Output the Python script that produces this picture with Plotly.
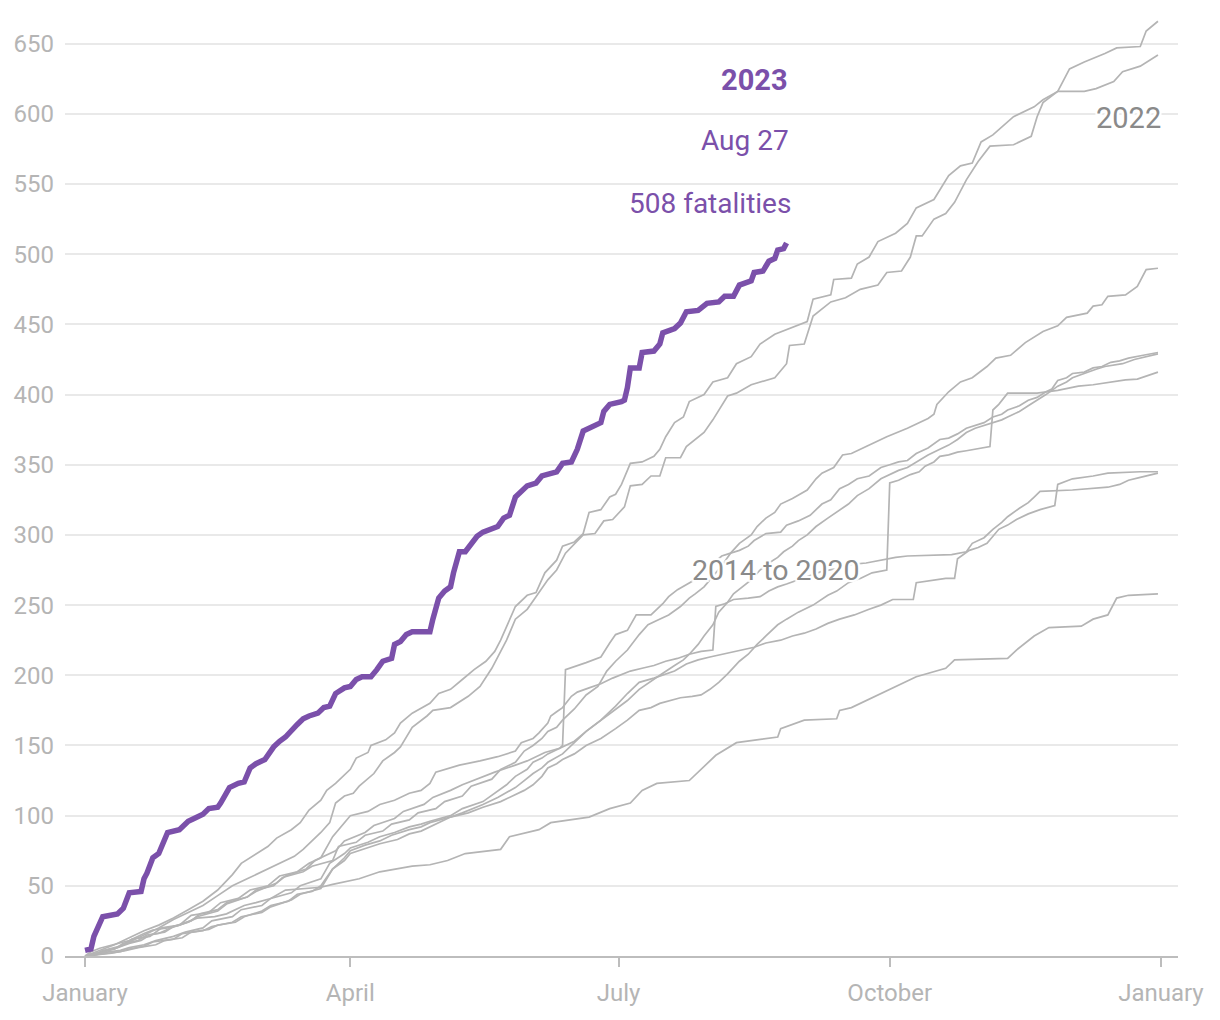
import pandas as pd
import plotly.graph_objects as go

# ---- data: (day of year, cumulative fatalities) ----
A_days = [0,5,10,15,20,25,30,35,40,45,50,53,56,62,65,70,73,76,80,82,85,90,92,96,97,102,105,107,111,117,120,124,128,132,136,139,141,144,146,150,153,156,160,162,166,169,171,175,178,180,182,185,189,193,195,197,200,203,205,210,213,218,221,226,229,234,239,245,247,253,254,260,262,266,269,275,279,282,288,290,293,297,301,304,308,315,322,325,330,334,339,346,350,358,360,364]
A_vals = [0,4,8,13,18,22,27,33,39,47,58,66,70,78,84,90,95,104,111,118,123,133,141,145,150,154,159,166,173,180,187,190,197,204,210,217,225,240,249,257,259,273,282,292,295,301,316,318,327,329,336,351,352,356,361,370,380,384,395,400,409,412,422,427,436,443,447,452,468,471,482,483,493,498,509,515,522,533,539,546,556,563,565,580,585,598,605,610,616,632,637,643,647,648,659,666]

B_days = [0,5,10,15,20,25,30,35,40,45,50,55,60,66,71,74,77,80,83,85,88,91,93,98,101,105,107,111,116,118,124,130,134,138,140,143,146,150,153,157,160,163,169,173,176,179,183,185,189,192,195,197,202,204,210,213,218,221,226,234,236,238,239,244,247,253,258,263,269,272,277,280,282,284,288,292,295,299,303,307,315,321,323,325,330,339,343,349,352,358,364]
B_vals = [0,2,5,10,15,20,26,31,36,43,50,55,60,66,71,76,82,88,95,109,114,116,121,130,139,145,149,163,171,175,177,185,192,205,213,225,240,247,256,268,275,287,300,301,310,311,320,335,336,342,342,355,355,363,373,382,399,401,407,412,417,422,435,436,456,466,469,475,478,487,488,498,513,513,525,529,537,553,566,577,578,584,598,608,616,616,618,623,630,634,642]

C_days = [0,4,8,11,15,19,22,25,29,35,38,45,48,55,58,65,68,75,78,85,88,95,98,105,108,115,118,124,128,135,139,146,150,156,161,162,163,170,175,178,180,184,187,192,196,198,201,206,212,216,219,222,226,228,231,234,236,240,245,248,250,254,257,260,265,272,279,286,288,289,293,297,301,306,309,314,319,325,330,333,340,342,345,347,353,357,360,364]
C_vals = [0,2,4,6,9,11,15,16,20,24,28,32,37,42,46,52,57,62,68,75,82,88,93,98,103,108,113,118,122,128,131,136,139,145,148,150,204,209,213,223,229,232,243,243,251,256,261,267,278,285,287,294,300,306,312,316,322,326,332,340,344,348,357,358,363,370,376,383,386,393,402,409,412,420,426,428,437,445,449,455,458,463,464,470,471,477,489,490]

D_days = [0,4,6,10,13,18,21,27,30,36,39,45,48,55,58,64,67,74,77,84,86,92,95,101,104,110,113,119,122,128,131,138,141,146,149,152,155,157,160,162,166,170,174,177,180,184,188,191,194,198,202,205,207,210,212,216,219,222,225,227,231,236,238,242,246,250,253,256,259,262,266,270,273,276,279,282,286,290,293,296,299,302,305,308,311,313,317,320,323,326,328,330,333,335,339,342,345,348,351,354,357,359,364]
D_vals = [0,1,4,5,9,11,15,17,21,25,30,33,38,42,47,50,56,60,64,68,78,81,86,89,94,97,102,105,110,114,121,126,133,138,146,150,155,160,163,168,176,186,192,203,210,218,229,236,239,243,249,255,258,263,268,278,287,289,292,296,301,302,307,310,314,322,325,333,336,340,342,348,350,352,353,358,362,368,369,372,376,378,380,384,386,389,392,396,398,402,404,410,412,415,416,419,420,423,424,426,427,428,430]

E_days = [0,5,8,12,15,20,24,30,34,40,43,50,53,60,63,70,73,80,83,88,90,96,100,105,110,114,117,124,128,135,139,143,146,150,152,155,157,162,166,170,175,180,184,188,192,195,200,203,205,208,210,213,215,218,220,223,226,229,232,235,237,240,242,245,248,252,256,259,262,266,270,273,276,279,282,286,290,293,296,299,302,305,308,311,313,317,320,323,326,330,333,335,340,343,346,352,356,360,364]
E_vals = [0,2,3,4,6,8,11,14,17,20,25,28,33,36,41,45,50,55,66,73,77,81,85,88,92,94,96,100,105,110,116,122,128,133,138,141,144,149,153,160,168,176,182,190,196,200,207,211,215,222,228,236,245,252,258,263,268,275,280,284,288,292,296,300,306,312,318,322,328,333,340,343,346,348,352,357,361,364,368,373,376,378,380,382,384,388,392,396,400,406,409,412,416,418,420,422,425,427,429]

F_days = [0,5,9,14,18,24,27,33,36,42,45,51,54,60,63,69,72,77,80,84,88,90,96,100,106,110,114,117,121,124,130,135,141,146,149,152,155,157,160,162,166,170,175,180,184,188,192,195,199,202,206,209,212,215,218,222,225,228,231,235,238,242,247,252,255,259,263,267,272,273,276,280,283,285,288,290,293,296,299,302,307,308,310,313,323,330,337,342,349,353,357,360,364]
F_vals = [0,1,2,4,6,8,11,13,17,19,22,24,28,32,36,39,44,46,50,62,68,73,77,80,83,87,89,92,96,99,102,106,110,115,118,122,128,134,137,140,144,150,155,162,168,175,177,180,182,184,185,186,190,195,201,210,215,222,228,236,240,245,250,257,260,266,269,273,275,337,339,343,345,349,352,356,357,359,360,361,363,389,393,401,401,403,406,407,409,410.5,411,413,416]

G_days = [0,4,7,12,15,20,23,30,33,40,43,50,53,60,63,70,73,80,84,88,90,95,100,104,110,114,117,124,128,135,140,146,149,152,155,157,162,166,170,175,180,184,188,193,200,204,208,212,218,222,227,231,236,240,244,248,252,256,261,266,270,274,281,282,288,292,295,296,300,303,306,310,313,316,320,324,329,330,335,342,347,358,364]
G_vals = [0,1,2,3,5,7,10,12,16,18,21,24,28,31,35,40,44,48,62,70,75,79,82,86,90,92,95,99,102,108,113,120,125,130,134,138,144,152,160,168,178,187,195,198,203,208,211,213,216,218,220,223,225,228,230,233,237,240,243,247,250,254,254,266,268,269,269,283,289,291,294,304,307,311,315,318,321,336,340,342,344,345,345]

H_days = [0,4,8,12,16,22,26,32,36,42,46,52,56,62,66,72,76,80,84,88,90,96,100,105,110,114,117,119,124,127,134,140,146,148,152,154,157,158,160,162,165,167,171,175,179,185,189,193,197,201,205,209,213,214,217,220,225,229,232,235,238,242,246,250,255,260,265,270,275,279,294,299,301,305,308,311,313,317,320,322,324,335,342,347,351,354,358,364]
H_vals = [0,2,5,7,12,14,20,22,29,31,38,41,47,50,57,60,66,70,85,95,100,103,108,111,116,118,123,131,134,136,139,142,146,152,155,159,166,171,174,177,185,188,191,194,198,203,205,207,210,212,215,217,218,249,251,254,255,256,260,263,265,268,271,274,276,279,280,282,284,285,286,288,294,298,304,309,313,319,323,327,331,332,333,334,336,339,341,344]

I_days = [0,2,5,10,15,20,23,28,32,38,44,48,54,58,63,68,75,80,84,89,93,100,106,111,117,123,129,141,144,154,158,171,178,185,189,194,205,208,214,221,235,236,244,255,256,260,266,273,282,292,295,313,316,322,327,338,342,347,350,354,364]
I_vals = [0,3,5.5,8,11,16,18.5,20,22,27,28,30,36,38,41,47,48,49,51,53,55,60,62,64,65,68,73,76,85,90,95,99,105,109,118,123,125,131,143,152,156,162,168,169,175,177,183,190,199,205,211,212,218,228,234,235,240,243,255,257,258]

Y2023_days = [0,2,3,5,6,11,13,15,19,20,21,23,25,27,28,32,35,37,40,42,45,46,49,52,54,56,58,61,64,66,68,72,74,76,79,81,83,85,88,90,92,94,97,99,101,104,105,107,109,111,117,118,120,122,124,125,127,129,131,133,135,138,140,142,144,146,150,153,155,160,162,165,167,169,172,175,176,178,182,183,184,185,188,189,193,195,196,200,202,204,208,211,215,217,220,222,226,227,230,232,234,235,237,238]
Y2023_vals = [4,5,14,24,28,30,34,45,46,55,59,70,73,83,88,90,96,98,101,105,106,109,120,123,124,134,137,140,149,153,156,165,169,171,173,177,178,187,191,192,197,199,199,204,210,212,222,224,229,231,231,240,255,260,263,273,288,288,293,299,302,304,306,312,314,327,335,337,342,345,351,352,361,374,377,380,388,393,395,396,405,419,419,430,431,436,444,447,451,459,460,465,466,470,470,478,481,487,488,495,497,503,504,508]

gray_series = {
    "2014": (I_days, I_vals), "2015": (G_days, G_vals), "2016": (C_days, C_vals),
    "2017": (F_days, F_vals), "2018": (E_days, E_vals), "2019": (H_days, H_vals),
    "2020": (D_days, D_vals), "2021": (A_days, A_vals), "2022": (B_days, B_vals),
}

tick_dates = ["2023-01-01", "2023-04-01", "2023-07-01", "2023-10-01", "2024-01-01"]
tick_text = ["January", "April", "July", "October", "January"]
y_ticks = list(range(0, 651, 50))

BASE = pd.Timestamp("2023-01-01")


def to_dates(days):
    return [BASE + pd.Timedelta(days=d) for d in days]


PURPLE = "#7b50aa"
GRAY = "#b4b4b4"
LABEL_GRAY = "#8a8a8a"
FONT = "Roboto"

fig = go.Figure()
for name, (d, v) in gray_series.items():
    fig.add_trace(go.Scatter(x=to_dates(d), y=v, mode="lines", name=name,
                             line=dict(color=GRAY, width=1.7), hoverinfo="skip"))

fig.add_trace(go.Scatter(x=to_dates(Y2023_days), y=Y2023_vals, mode="lines", name="2023",
                         line=dict(color=PURPLE, width=5.5)))

halo = ("white 2px 0px 1px, white -2px 0px 1px, white 0px 2px 1px, white 0px -2px 1px, "
        "white 2px 2px 1px, white -2px -2px 1px, white 2px -2px 1px, white -2px 2px 1px, "
        "white 0px 0px 4px")
end_x = BASE + pd.Timedelta(days=Y2023_days[-1] + 0.5)
fig.add_annotation(x=end_x, y=624, text="<b>2023</b>", showarrow=False, xanchor="right", xshift=2,
                   font=dict(family=FONT, size=29, color=PURPLE))
fig.add_annotation(x=end_x, y=581, text="Aug 27", showarrow=False, xanchor="right", xshift=3,
                   font=dict(family=FONT, size=28, color=PURPLE))
fig.add_annotation(x=end_x, y=536, text="508 fatalities", showarrow=False, xanchor="right", xshift=5,
                   font=dict(family=FONT, size=28, color=PURPLE))
fig.add_annotation(x=pd.Timestamp("2024-01-01"), y=597, text="2022", showarrow=False, xanchor="right",
                   xshift=2, font=dict(family=FONT, size=29, color=LABEL_GRAY, shadow=halo))
fig.add_annotation(x=BASE + pd.Timedelta(days=234.3), y=275, text="2014 to 2020", showarrow=False,
                   xanchor="center", font=dict(family=FONT, size=28.5, color=LABEL_GRAY, shadow=halo))

fig.update_layout(
    width=1220, height=1020,
    margin=dict(l=65, r=42, t=10, b=64),
    paper_bgcolor="white", plot_bgcolor="white",
    showlegend=False,
    font=dict(family=FONT, color="#b5b5b5"),
    xaxis=dict(type="date",
               range=[BASE - pd.Timedelta(days=6.8), BASE + pd.Timedelta(days=370.8)],
               tickvals=tick_dates, ticktext=tick_text,
               ticks="outside", ticklen=9, tickwidth=2, tickcolor="#bdbdbd",
               showline=True, linecolor="#bdbdbd", linewidth=2,
               showgrid=False, zeroline=False, ticklabelstandoff=5,
               tickfont=dict(family=FONT, size=24, color="#b5b5b5")),
    yaxis=dict(range=[0, 674], tickvals=y_ticks,
               showgrid=True, gridcolor="#e9e9e9", gridwidth=2,
               zeroline=False, showline=False, ticks="",
               ticklabelstandoff=10,
               tickfont=dict(family=FONT, size=24, color="#b5b5b5")),
)

fig.write_html("out.html")
